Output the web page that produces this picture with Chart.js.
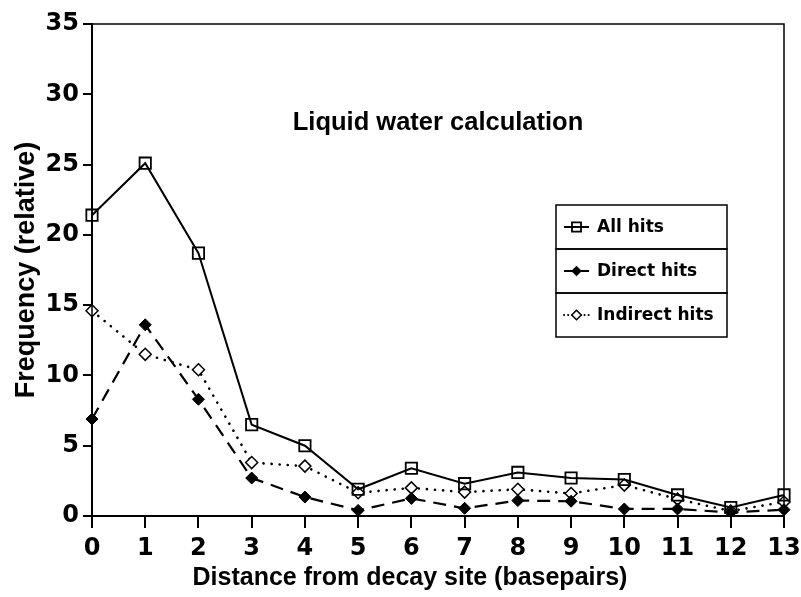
<!DOCTYPE html>
<html>
<head>
<meta charset="utf-8">
<title>Liquid water calculation</title>
<script src="https://cdn.jsdelivr.net/npm/chart.js@4.4.1/dist/chart.umd.min.js"></script>
<style>
    html, body { margin: 0; padding: 0; background: #fff; }
    #wrap { width: 801px; height: 597px; }
</style>
</head>
<body>
<div id="wrap"><canvas id="hitsChart" width="801" height="597"></canvas></div>
<script>
// distance from the decay site, in basepairs
const distances = ['0', '1', '2', '3', '4', '5', '6', '7', '8', '9', '10', '11', '12', '13'];
const yTicks = [0, 5, 10, 15, 20, 25, 30, 35];

// relative frequencies
const allHits      = [21.4, 25.1, 18.7, 6.5, 5.0, 1.9, 3.4, 2.3, 3.1, 2.7, 2.6, 1.5, 0.6, 1.5];
const directHits   = [6.9, 13.6, 8.3, 2.7, 1.35, 0.4, 1.25, 0.55, 1.1, 1.05, 0.5, 0.5, 0.25, 0.45];
const indirectHits = [14.6, 11.5, 10.4, 3.8, 3.55, 1.65, 2.0, 1.7, 1.9, 1.6, 2.2, 1.2, 0.35, 1.0];

const SANS = '"Liberation Sans", Arial, sans-serif';
const WIDE = '"DejaVu Sans", Verdana, sans-serif';
const INK = '#000';

// box around the plot area (top and right sides have no axis)
const frame = {
    id: 'frame',
    afterDatasetsDraw(chart) {
        const { ctx, chartArea: a } = chart;
        ctx.save();
        ctx.strokeStyle = INK;
        ctx.lineWidth = 1.5;
        ctx.strokeRect(a.left, a.top, a.right - a.left, a.bottom - a.top);
        ctx.restore();
    }
};

// free-standing texts: caption in the plot and the x axis title
const texts = {
    id: 'texts',
    afterDraw(chart, args, opts) {
        const { ctx } = chart;
        ctx.save();
        ctx.fillStyle = INK;
        ctx.textAlign = 'center';
        ctx.textBaseline = 'middle';
        opts.items.forEach(t => {
            ctx.font = `bold ${t.size}px ${SANS}`;
            ctx.fillText(t.text, t.x, t.y);
        });
        ctx.restore();
    }
};

// stacked boxed legend, one cell per dataset
const boxLegend = {
    id: 'boxLegend',
    afterDraw(chart, args, opts) {
        const { ctx } = chart;
        ctx.save();
        chart.data.datasets.forEach((ds, i) => {
            const top = opts.top + i * opts.rowHeight;
            const cy = top + opts.rowHeight / 2;
            ctx.strokeStyle = INK;
            ctx.lineWidth = 1.5;
            ctx.setLineDash([]);
            ctx.strokeRect(opts.left, top, opts.width, opts.rowHeight);

            const x0 = opts.left + 8;
            const x1 = x0 + 25;
            ctx.lineWidth = 2;
            ctx.lineCap = ds.borderCapStyle || 'butt';
            ctx.setLineDash(ds.borderDash && ds.borderDash.length ? [ds.borderDash[0], ds.borderDash[1] * 0.5] : []);
            ctx.beginPath();
            ctx.moveTo(x0, cy);
            ctx.lineTo(x1, cy);
            ctx.stroke();
            ctx.setLineDash([]);
            ctx.lineCap = 'butt';
            ctx.fillStyle = ds.pointBackgroundColor;
            ctx.lineWidth = ds.pointBorderWidth;
            Chart.helpers.drawPoint(ctx, {
                pointStyle: ds.pointStyle,
                radius: ds.pointRadius * 0.8,
                borderWidth: ds.pointBorderWidth,
                rotation: 0
            }, (x0 + x1) / 2, cy);

            ctx.fillStyle = INK;
            ctx.font = `bold ${opts.size}px ${WIDE}`;
            ctx.textAlign = 'left';
            ctx.textBaseline = 'middle';
            ctx.fillText(ds.label, x1 + 8, cy + 1);
        });
        ctx.restore();
    }
};

const lineStyle = {
    borderColor: INK,
    pointBorderColor: INK,
    pointHoverRadius: 0,
    tension: 0,
    fill: false
};

new Chart(document.getElementById('hitsChart'), {
    type: 'line',
    data: {
        labels: distances,
        datasets: [
            {
                ...lineStyle,
                label: 'All hits',
                data: allHits,
                borderWidth: 2,
                pointStyle: 'rect',
                pointRadius: 8,
                pointBorderWidth: 1.8,
                pointBackgroundColor: 'rgba(255,255,255,0)'
            },
            {
                ...lineStyle,
                label: 'Direct hits',
                data: directHits,
                borderWidth: 2.2,
                borderDash: [13, 8],
                pointStyle: 'rectRot',
                pointRadius: 6,
                pointBorderWidth: 1,
                pointBackgroundColor: INK
            },
            {
                ...lineStyle,
                label: 'Indirect hits',
                data: indirectHits,
                borderWidth: 2.6,
                borderDash: [0.1, 8],
                borderCapStyle: 'round',
                pointStyle: 'rectRot',
                pointRadius: 6,
                pointBorderWidth: 1.5,
                pointBackgroundColor: '#fff'
            }
        ]
    },
    options: {
        responsive: false,
        animation: false,
        events: [],
        layout: { padding: { top: 24, right: 17, left: 0, bottom: 0 } },
        plugins: {
            legend: { display: false },
            tooltip: { enabled: false },
            texts: {
                items: [
                    { text: 'Liquid water calculation', x: 438, y: 123, size: 25.5 },
                    { text: 'Distance from decay site (basepairs)', x: 410, y: 578, size: 25 }
                ]
            },
            boxLegend: { left: 556, top: 205, width: 171, rowHeight: 44, size: 17 }
        },
        scales: {
            x: {
                type: 'category',
                offset: false,
                grid: {
                    offset: false,
                    drawOnChartArea: false,
                    tickLength: 12,
                    color: INK,
                    lineWidth: 2
                },
                border: { display: true, color: INK, width: 2 },
                ticks: {
                    color: INK,
                    autoSkip: false,
                    maxRotation: 0,
                    padding: 6,
                    font: { family: WIDE, size: 24, weight: 'bold' }
                },
                afterFit(scale) {
                    scale.height = 81;
                    // the end labels fit inside the layout padding
                    scale.paddingLeft = 0;
                    scale.paddingRight = 0;
                }
            },
            y: {
                min: 0,
                max: 35,
                grid: {
                    drawOnChartArea: false,
                    tickLength: 9,
                    color: INK,
                    lineWidth: 2
                },
                border: { display: true, color: INK, width: 2 },
                afterBuildTicks(scale) {
                    scale.ticks = yTicks.map(v => ({ value: v }));
                },
                ticks: {
                    color: INK,
                    padding: 4,
                    font: { family: WIDE, size: 24, weight: 'bold' }
                },
                title: {
                    display: true,
                    text: 'Frequency (relative)',
                    color: INK,
                    padding: { top: 10, bottom: 0 },
                    font: { family: SANS, size: 27, weight: 'bold' }
                },
                afterFit(scale) { scale.width = 92; }
            }
        }
    },
    plugins: [frame, texts, boxLegend]
});
</script>
</body>
</html>
